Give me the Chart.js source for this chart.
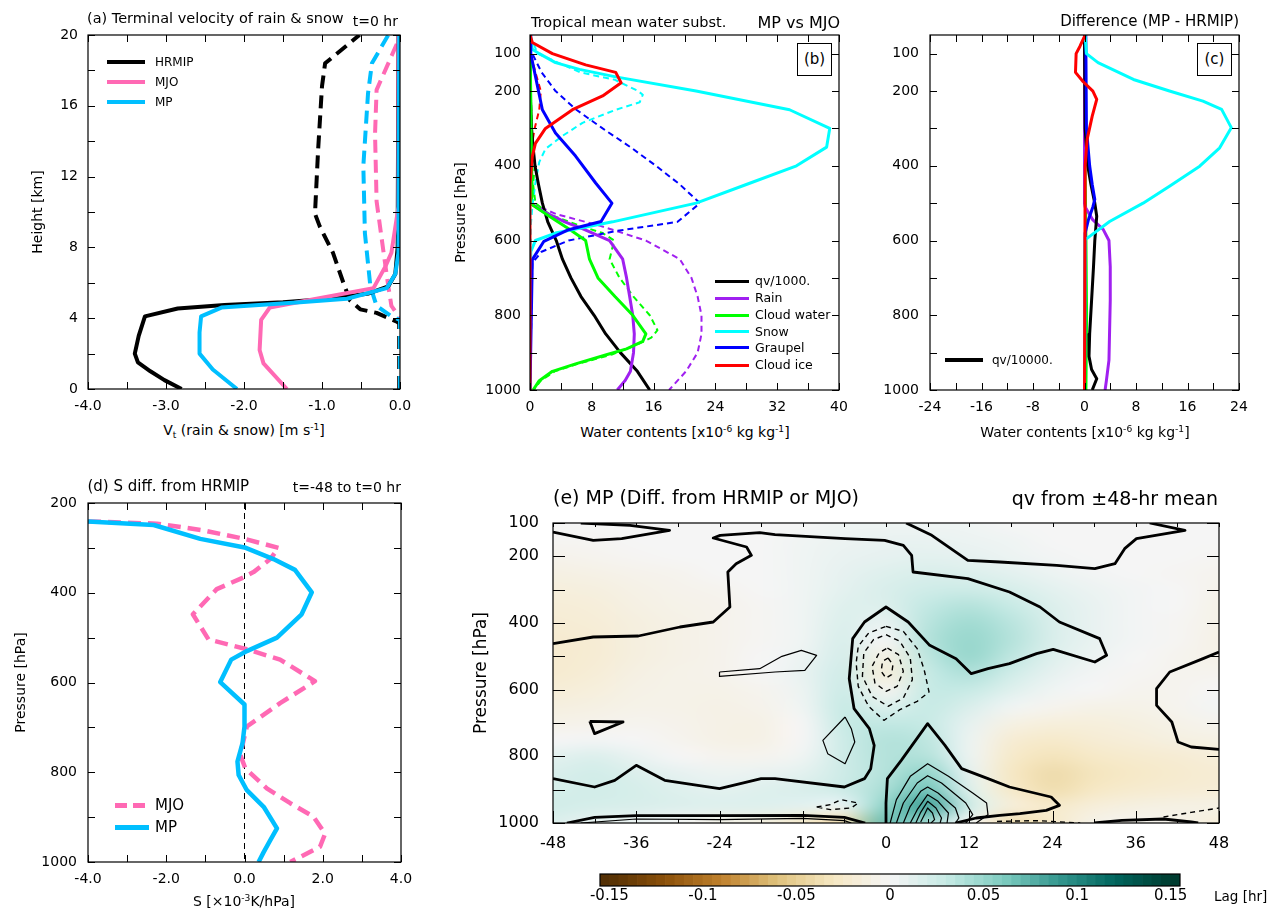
<!DOCTYPE html>
<html>
<head>
<meta charset="utf-8">
<title>Rain and snow profiles</title>
<script src="https://cdn.jsdelivr.net/npm/chart.js@4.4.1/dist/chart.umd.min.js"></script>
<style>
  html, body { margin: 0; padding: 0; background: #fff; }
  #page { position: relative; width: 1271px; height: 913px; overflow: hidden; background: #fff;
          font-family: "DejaVu Sans", sans-serif; color: #000; }
  #page canvas { position: absolute; }
  .txt { position: absolute; white-space: nowrap; line-height: 1; }
  .txt sup { font-size: 0.65em; vertical-align: 0.6em; line-height: 0; }
  .txt sub { font-size: 0.65em; vertical-align: -0.3em; line-height: 0; }
  .leg { position: absolute; }
  .tag { position: absolute; box-sizing: border-box; border: 1px solid #000; background: #fff;
         text-align: center; font-size: 15px; line-height: 31px; }
</style>
</head>
<body>
<div id="page"></div>
<script>
// ---------- (a) terminal velocity, height [km] vs Vt [m/s] ----------
const aHgtHrmip = [0, 0.5, 1, 1.5, 2, 3, 4.1, 4.55, 4.75, 4.9, 5.1, 5.4, 5.8, 6.5, 8, 20];
const aVtHrmip  = [-2.80, -3.02, -3.20, -3.36, -3.40, -3.35, -3.27, -2.85, -2.25, -1.50, -0.90, -0.40, -0.15, -0.06, -0.03, -0.02];
const aHgtMjo   = [0, 1.45, 2.2, 3.9, 4.6, 5.1, 5.7, 6.9, 7.7, 10.3, 20];
const aVtMjo    = [-1.45, -1.75, -1.80, -1.78, -1.67, -1.07, -0.34, -0.19, -0.11, -0.02, -0.02];
const aHgtMp    = [0, 1.1, 2.0, 3.2, 4.1, 4.6, 4.9, 5.1, 5.7, 6.5, 7.7, 20];
const aVtMp     = [-2.09, -2.40, -2.57, -2.57, -2.55, -2.29, -1.28, -0.68, -0.17, -0.06, -0.02, -0.01];
// dashed = snow
const aHgtHrmipS = [0, 3.7, 3.8, 4.3, 4.5, 5.0, 5.8, 7.7, 9.2, 9.9, 13.5, 17.1, 18.4, 20];
const aVtHrmipS  = [-0.01, -0.01, -0.04, -0.30, -0.51, -0.64, -0.71, -0.86, -1.03, -1.09, -1.05, -1.00, -0.96, -0.52];
const aHgtMjoS   = [0, 4.0, 4.7, 5.8, 7.7, 10.6, 14.4, 16.9, 18.2, 19.9];
const aVtMjoS    = [0, 0, -0.11, -0.15, -0.21, -0.30, -0.32, -0.30, -0.17, 0];
const aHgtMpS    = [0, 3.9, 4.1, 4.7, 5.8, 8.8, 12.6, 16.7, 18.4, 20];
const aVtMpS     = [0, 0, -0.11, -0.30, -0.38, -0.45, -0.47, -0.41, -0.36, -0.15];

// ---------- (b) tropical mean water substances (solid MP, dashed MJO) ----------
const bPQv = [50, 100, 200, 300, 350, 400, 450, 500, 550, 600, 650, 700, 750, 800, 850, 900, 950, 1000];
const bQv  = [0, 0, 0.05, 0.2, 0.4, 0.65, 1.1, 1.6, 2.3, 3.4, 4.2, 5.3, 6.6, 8.3, 9.8, 11.7, 13.9, 15.5];
const bPRain = [50, 500, 520, 550, 570, 600, 650, 700, 750, 800, 850, 900, 950, 975, 1000];
const bRain  = [0, 0, 1.5, 4.5, 7.0, 10.3, 12.0, 12.5, 12.9, 13.3, 13.5, 13.4, 13.0, 12.3, 11.3];
const bPRainD = [50, 500, 530, 560, 600, 650, 700, 750, 800, 850, 900, 950, 1000];
const bRainD  = [0, 0, 3.5, 9.0, 15.0, 19.4, 20.9, 21.7, 22.2, 22.2, 21.7, 20.2, 18.0];
const bPCw = [50, 400, 480, 500, 535, 570, 600, 650, 700, 750, 800, 850, 870, 890, 905, 930, 950, 975, 1000];
const bCw  = [0, 0.2, 0.3, 0, 2.5, 5.1, 7.2, 7.7, 8.8, 11.0, 13.3, 15.0, 14.6, 12.5, 10.0, 5.9, 2.9, 1.2, 0.4];
const bPCwD = [50, 300, 400, 450, 500, 530, 560, 580, 600, 650, 700, 750, 800, 840, 860, 880, 905, 930, 950, 975, 1000];
const bCwD  = [0, 0.2, 0.6, 0.4, 0.7, 2.5, 6.4, 9.4, 10.9, 10.3, 11.6, 13.4, 15.5, 16.5, 15.7, 13.7, 10.6, 6.2, 3.2, 1.4, 0.5];
const bPSnow = [50, 88, 100, 124, 142, 162, 200, 250, 300, 350, 400, 450, 500, 550, 580, 600, 630, 650, 1000];
const bSnow  = [0, 0.3, 1.2, 3.3, 6.4, 11.1, 21.5, 33.6, 38.8, 38.4, 34.5, 28.0, 21.5, 10.7, 3.3, 0.7, 0.1, 0, 0];
const bPSnowD = [50, 100, 150, 170, 200, 210, 230, 250, 285, 320, 355, 390, 445, 510, 560, 1000];
const bSnowD  = [0, 1.0, 6.5, 11.0, 14.0, 14.6, 14.2, 11.1, 6.8, 4.2, 2.0, 1.2, 0.7, 0.3, 0.1, 0];
const bPGr = [50, 100, 160, 250, 312, 374, 446, 500, 549, 571, 602, 651, 1000];
const bGr  = [0, 0.1, 0.7, 1.6, 3.3, 5.9, 8.5, 10.6, 9.2, 5.0, 1.8, 0.3, 0];
const bPGrD = [50, 100, 150, 200, 250, 300, 350, 400, 450, 500, 550, 575, 600, 630, 660, 1000];
const bGrD  = [0, 0.3, 1.5, 3.3, 6.0, 9.4, 13.0, 16.3, 19.4, 22.0, 19.1, 11.0, 5.0, 1.5, 0.3, 0];
const bPIce = [50, 70, 100, 130, 150, 178, 213, 250, 300, 340, 375, 450, 1000];
const bIce  = [0, 0.3, 2.9, 7.2, 11.1, 11.8, 9.4, 5.5, 2.0, 0.7, 0.3, 0, 0];
const bPIceD = [50, 100, 150, 200, 250, 300, 350, 400, 1000];
const bIceD  = [0, 0.1, 0.7, 1.4, 1.2, 0.6, 0.2, 0, 0];

// ---------- (c) difference MP - HRMIP ----------
const cPSnow = [50, 100, 124, 169, 200, 227, 249, 298, 352, 401, 455, 500, 549, 589, 598, 1000];
const cSnow  = [0.1, 0.3, 2.1, 7.6, 13.2, 18.4, 21.3, 22.8, 21.0, 17.9, 13.2, 9.1, 3.9, 0.8, 0.1, 0];
const cPIce = [50, 80, 100, 150, 175, 200, 222, 267, 330, 400, 1000];
const cIce  = [0.1, -0.7, -1.3, -1.4, -0.2, 1.3, 1.9, 1.2, 0.4, 0.1, 0];
const cPGr = [50, 300, 400, 450, 490, 510, 545, 580, 1000];
const cGr  = [0.2, 0.3, 0.8, 1.2, 1.6, 1.3, 0.6, 0.1, 0];
const cPQv = [50, 300, 400, 450, 500, 535, 600, 670, 760, 850, 910, 945, 970, 1000];
const cQv  = [0, 0.1, 0.5, 1.0, 1.6, 1.9, 1.6, 1.4, 1.1, 0.8, 0.7, 1.1, 1.9, 1.2];
const cPRain = [50, 500, 510, 545, 570, 600, 670, 760, 920, 975, 1000];
const cRain  = [0, 0, 0.1, 1.3, 2.9, 3.8, 4.0, 4.0, 3.8, 3.4, 3.2];
const cPCw = [50, 300, 600, 800, 1000];
const cCw  = [0, 0.1, 0.3, 0.4, 0.3];

// ---------- (d) S difference from HRMIP ----------
const dPMp = [241, 249, 280, 299, 325, 349, 399, 448, 500, 530, 549, 599, 649, 698, 735, 776, 806, 840, 877, 925, 951, 978, 1000];
const dSMp = [-4.0, -2.32, -1.13, 0, 0.74, 1.29, 1.72, 1.46, 0.83, 0.06, -0.34, -0.62, 0, 0, -0.05, -0.18, -0.15, 0.06, 0.49, 0.83, 0.66, 0.49, 0.36];
const dPMjo = [241, 246, 261, 280, 300, 325, 354, 366, 392, 448, 504, 526, 549, 597, 646, 698, 761, 791, 836, 869, 899, 937, 966, 1000];
const dSMjo = [-4, -2.24, -1.05, 0, 0.87, 0.66, 0.23, -0.03, -0.71, -1.32, -0.92, 0.06, 0.91, 1.80, 0.91, 0.06, -0.11, 0.02, 0.57, 1.17, 1.76, 2.06, 1.93, 1.17];

// ---------- (e) lag-pressure field (shading) and contours [lag, p] ----------
const eLag = [-48, -42, -36, -30, -24, -18, -12, -6, 0, 6, 12, 18, 24, 30, 36, 42, 48];
const eP = [100, 150, 200, 250, 300, 350, 400, 450, 500, 550, 600, 650, 700, 750, 800, 850, 900, 950, 1000];
const eQv = [
  [0.000, 0.000, 0.000, 0.000, 0.000, 0.000, 0.000, 0.004, 0.004, 0.004, 0.004, 0.000, 0.000, 0.000, 0.000, 0.000, 0.000],
  [-0.002, -0.002, 0.000, 0.000, 0.000, 0.000, 0.003, 0.006, 0.008, 0.008, 0.006, 0.004, 0.000, 0.000, 0.000, 0.000, 0.000],
  [-0.006, -0.004, -0.002, 0.000, 0.000, 0.000, 0.004, 0.008, 0.010, 0.012, 0.010, 0.006, 0.002, 0.000, 0.000, 0.000, -0.002],
  [-0.011, -0.009, -0.006, -0.004, 0.000, 0.000, 0.004, 0.010, 0.015, 0.018, 0.016, 0.012, 0.006, 0.002, 0.000, -0.002, -0.004],
  [-0.015, -0.013, -0.009, -0.006, -0.004, 0.000, 0.004, 0.012, 0.018, 0.025, 0.026, 0.020, 0.012, 0.006, 0.002, 0.000, -0.006],
  [-0.018, -0.016, -0.011, -0.008, -0.006, -0.002, 0.004, 0.015, 0.016, 0.032, 0.038, 0.030, 0.016, 0.008, 0.002, 0.000, -0.008],
  [-0.020, -0.018, -0.013, -0.009, -0.006, -0.002, 0.004, 0.017, 0.008, 0.036, 0.046, 0.036, 0.018, 0.008, 0.002, -0.002, -0.008],
  [-0.022, -0.020, -0.013, -0.009, -0.006, -0.002, 0.004, 0.019, 0.000, 0.038, 0.050, 0.038, 0.018, 0.008, 0.002, -0.002, -0.009],
  [-0.022, -0.020, -0.013, -0.009, -0.006, 0.000, 0.006, 0.021, -0.010, 0.034, 0.050, 0.034, 0.015, 0.006, 0.000, -0.004, -0.008],
  [-0.022, -0.018, -0.011, -0.008, -0.006, 0.000, 0.008, 0.024, -0.016, 0.030, 0.040, 0.025, 0.010, 0.002, -0.002, -0.004, -0.004],
  [-0.018, -0.015, -0.009, -0.008, -0.008, -0.004, 0.006, 0.027, -0.004, 0.030, 0.030, 0.015, 0.004, 0.000, -0.004, -0.004, 0.000],
  [-0.013, -0.011, -0.008, -0.008, -0.009, -0.006, 0.004, 0.030, 0.015, 0.030, 0.018, 0.004, -0.004, -0.008, -0.008, -0.004, 0.002],
  [-0.008, -0.006, -0.004, -0.006, -0.009, -0.009, 0.000, 0.030, 0.032, 0.030, 0.010, -0.010, -0.015, -0.015, -0.012, -0.008, -0.004],
  [0.000, 0.002, 0.000, -0.004, -0.009, -0.009, 0.000, 0.027, 0.038, 0.034, 0.006, -0.020, -0.025, -0.020, -0.016, -0.012, -0.010],
  [0.012, 0.016, 0.008, 0.000, -0.004, -0.004, 0.004, 0.026, 0.038, 0.038, 0.006, -0.025, -0.033, -0.027, -0.023, -0.020, -0.016],
  [0.018, 0.023, 0.016, 0.010, 0.006, 0.008, 0.012, 0.026, 0.038, 0.052, 0.010, -0.029, -0.040, -0.032, -0.027, -0.023, -0.020],
  [0.020, 0.023, 0.020, 0.015, 0.012, 0.015, 0.018, 0.026, 0.043, 0.065, 0.015, -0.025, -0.038, -0.029, -0.023, -0.020, -0.018],
  [0.023, 0.020, 0.018, 0.016, 0.015, 0.015, 0.012, 0.008, 0.055, 0.085, 0.025, -0.016, -0.025, -0.016, -0.012, -0.010, -0.010],
  [0.016, 0.008, 0.006, 0.000, -0.008, -0.012, -0.025, -0.040, 0.070, 0.045, 0.000, -0.038, -0.025, -0.008, -0.004, -0.008, -0.016]
];
// thick contours
const eThickA = [[-48, 127], [-42.2, 152], [-38.1, 147], [-31.2, 122], [-36.9, 107], [-44, 100]];
const eThickB = [[-48, 462], [-42.2, 442], [-35.7, 439], [-29.7, 412], [-24.9, 397], [-22.5, 352], [-22.8, 247], [-21.6, 222],
  [-19.4, 197], [-20.1, 172], [-24.9, 145], [-23.9, 137], [-18.2, 129], [-16, 135], [-5.9, 147], [-0.2, 152], [2.5, 167],
  [3.7, 197], [3.9, 247], [11.8, 267], [17.8, 307], [22.2, 352], [25, 397], [30.8, 447], [31.8, 497], [30.1, 517], [24.1, 479],
  [21.7, 492], [17.8, 522], [14.7, 537], [12.3, 552], [10.1, 507], [6.3, 467], [3.2, 397], [0, 352], [-3.1, 397], [-4.8, 447],
  [-5.3, 567], [-4.6, 657], [-2.4, 717], [-1.7, 767], [-2.2, 837], [-3.1, 867], [-6, 892], [-16, 867], [-18, 867], [-24, 897],
  [-31.9, 872], [-36, 827], [-39.1, 872], [-42, 892], [-48, 867]];
const eThickC = [[2.9, 100], [6.6, 137], [11.8, 212], [16.4, 217], [24.6, 227], [30.1, 237], [33, 222], [34.4, 177], [36.1, 147], [43.1, 122], [38, 100]];
const eThickD = [[48, 487], [45.7, 507], [40.9, 547], [39, 597], [39, 647], [41.2, 697], [42.1, 757], [44, 772], [48, 779]];
const eThickE = [[0.1, 1000], [0, 940], [0.2, 867], [2.2, 812], [6, 702], [8.5, 767], [10.9, 837], [14.7, 867], [17.8, 892],
  [23.8, 922], [25, 947], [23.1, 962], [19.3, 972], [16.4, 977], [13, 985], [10, 1000]];
const eThickF = [[-42.7, 695], [-37.9, 697], [-42, 732], [-42.7, 695]];
const eThickG = [[-46, 1000], [-42, 983], [-36, 978], [-24, 978], [-12, 977], [-6, 983], [-3, 1000]];
const eThickH = [[30, 1000], [34, 992], [40, 988], [44, 997], [45, 1000]];
// thin positive contours
const eThinA = [[-24, 547], [-18.2, 537], [-15, 500], [-12.2, 482], [-10, 497], [-11.7, 542], [-16, 547], [-24, 560], [-24, 547]];
const eThinB = [[-5.9, 682], [-5, 717], [-4.5, 757], [-5.9, 822], [-8.4, 792], [-9.1, 752], [-5.9, 682]];
const eThin1 = [[0.6, 1000], [1.5, 930], [3.5, 860], [6, 822], [9, 860], [12.5, 910], [14.5, 940], [14.7, 975], [13, 1000]];
const eThin2 = [[1.5, 1000], [2.5, 940], [4.5, 880], [6, 858], [8, 880], [11.5, 940], [12.5, 975], [11.5, 1000]];
const eThin3 = [[2.5, 1000], [3.5, 950], [5, 905], [6, 892], [7.5, 910], [10, 955], [10.5, 985], [10, 1000]];
const eThin4 = [[3.5, 1000], [4.5, 960], [6, 915], [7.5, 935], [9, 970], [8.8, 1000]];
const eThin5 = [[4.3, 1000], [5, 968], [6, 935], [7.2, 955], [8, 985], [7.8, 1000]];
const eThin6 = [[5, 997], [5.6, 972], [6, 955], [6.7, 970], [7, 990], [6.5, 1000]];
const eThinG = [[-44, 1000], [-36, 988], [-24, 990], [-12, 986], [-6, 993], [-5, 1000]];
// dashed negative contours
const eNeg1 = [[0, 410], [2.5, 425], [4.5, 477], [5.5, 540], [6.2, 607], [4.5, 635], [2, 660], [-0.3, 692], [-2.5, 650],
  [-4, 590], [-4.3, 520], [-4, 470], [-2.5, 430], [0, 410]];
const eNeg2 = [[0, 435], [2, 455], [3.5, 505], [3.8, 570], [2.5, 625], [0.3, 650], [-2, 620], [-3.4, 560], [-3.2, 490], [-1.8, 450], [0, 435]];
const eNeg3 = [[0.2, 475], [1.8, 495], [2.5, 545], [1.6, 590], [0, 605], [-1.6, 580], [-2, 530], [-1, 490], [0.2, 475]];
const eNeg4 = [[0.3, 505], [1, 525], [0.8, 555], [0, 565], [-0.7, 545], [-0.5, 515], [0.3, 505]];
const eNeg5 = [[-10, 952], [-8, 945], [-6.5, 930], [-4, 940], [-5, 955], [-8, 960], [-10, 952]];
const eNeg6 = [[40, 982], [44, 968], [48, 955]];
const eNeg7 = [[16, 995], [22, 993], [28, 1000]];

// ---------- axis ticks ----------
const aXTicks = [-4, -3.5, -3, -2.5, -2, -1.5, -1, -0.5, 0];
const aXLabels = [-4, -3, -2, -1, 0];
const aYTicks = [0, 2, 4, 6, 8, 10, 12, 14, 16, 18, 20];
const aYLabels = [0, 4, 8, 12, 16, 20];
const pTicks = [100, 200, 300, 400, 500, 600, 700, 800, 900, 1000];
const pLabels = [100, 200, 400, 600, 800, 1000];
const bXTicks = [0, 4, 8, 12, 16, 20, 24, 28, 32, 36, 40];
const bXLabels = [0, 8, 16, 24, 32, 40];
const cXTicks = [-24, -20, -16, -12, -8, -4, 0, 4, 8, 12, 16, 20, 24];
const cXLabels = [-24, -16, -8, 0, 8, 16, 24];
const dXTicks = [-4, -3, -2, -1, 0, 1, 2, 3, 4];
const dXLabels = [-4, -2, 0, 2, 4];
const dYTicks = [200, 300, 400, 500, 600, 700, 800, 900, 1000];
const dYLabels = [200, 400, 600, 800, 1000];
const eXTicks = [-48, -42, -36, -30, -24, -18, -12, -6, 0, 6, 12, 18, 24, 30, 36, 42, 48];
const eXLabels = [-48, -36, -24, -12, 0, 12, 24, 36, 48];
const cbTicks = [-0.15, -0.1, -0.05, 0, 0.05, 0.1, 0.15];
// BrBG colour scale anchors
const cbVals = [-0.15, -0.12, -0.09, -0.06, -0.03, 0, 0.03, 0.06, 0.09, 0.12, 0.15];
const cbColors = ['#543005', '#8c510a', '#bf812d', '#dfc27d', '#f6e8c3', '#f5f5f5', '#c7eae5', '#80cdc1', '#35978f', '#01665e', '#003c30'];

const BLACK = '#000000', PINK = '#ff69b4', SKY = '#00bfff';
const PURPLE = '#a020f0', GREEN = '#00ff00', CYAN = '#00ffff', BLUE = '#0000ff', RED = '#ff0000';

Chart.defaults.font.family = '"DejaVu Sans", sans-serif';
Chart.defaults.color = '#000';

const page = document.getElementById('page');

function hexRgb(h) {
  return [parseInt(h.slice(1, 3), 16), parseInt(h.slice(3, 5), 16), parseInt(h.slice(5, 7), 16)];
}
function colorAt(v) {
  if (v <= cbVals[0]) return hexRgb(cbColors[0]);
  for (let i = 1; i < cbVals.length; i++) {
    if (v <= cbVals[i]) {
      const f = (v - cbVals[i - 1]) / (cbVals[i] - cbVals[i - 1]);
      const a = hexRgb(cbColors[i - 1]), b = hexRgb(cbColors[i]);
      return a.map((c, k) => Math.round(c + (b[k] - c) * f));
    }
  }
  return hexRgb(cbColors[cbColors.length - 1]);
}

function text(html, x, base, size, align) {
  const d = document.createElement('div');
  d.className = 'txt';
  d.innerHTML = html;
  d.style.fontSize = size + 'px';
  d.style.top = (base - 0.846 * size) + 'px';
  if (align === 'right') d.style.right = (1271 - x) + 'px';
  else if (align === 'center') { d.style.left = x + 'px'; d.style.transform = 'translateX(-50%)'; }
  else d.style.left = x + 'px';
  page.appendChild(d);
}

function legLine(x1, x2, y, w, color, dash) {
  const d = document.createElement('div');
  d.className = 'leg';
  d.style.left = x1 + 'px';
  d.style.width = (x2 - x1) + 'px';
  d.style.top = (y - w / 2) + 'px';
  d.style.height = w + 'px';
  d.style.background = dash
    ? `repeating-linear-gradient(90deg, ${color} 0 ${dash[0]}px, transparent ${dash[0]}px ${dash[0] + dash[1]}px)`
    : color;
  page.appendChild(d);
}

function tag(label, x, y) {
  const d = document.createElement('div');
  d.className = 'tag';
  d.textContent = label;
  d.style.left = x + 'px';
  d.style.top = y + 'px';
  d.style.width = '35px';
  d.style.height = '33px';
  page.appendChild(d);
}

// profile line: values on x, levels on y
function prof(vals, levels, color, width, dash) {
  return {
    data: vals.map((v, i) => ({ x: v, y: levels[i] })),
    showLine: true, borderColor: color, backgroundColor: color, borderWidth: width,
    borderDash: dash || [], pointRadius: 0, borderJoinStyle: 'round', fill: false
  };
}
// contour line from [lag, p] pairs
function cont(pts, width, dash) {
  return {
    data: pts.map(p => ({ x: p[0], y: p[1] })),
    showLine: true, borderColor: '#000', borderWidth: width, borderDash: dash || [],
    pointRadius: 0, borderJoinStyle: 'round', fill: false
  };
}

const framePlugin = {
  id: 'frame',
  afterDraw(chart, args, o) {
    const { ctx, chartArea: a, scales: { x, y } } = chart;
    ctx.save();
    ctx.strokeStyle = '#000';
    ctx.lineWidth = 1;
    ctx.beginPath();
    x.ticks.forEach(t => {
      const p = Math.round(x.getPixelForValue(t.value)) + 0.5;
      const k = t.label === '' ? 1 : 0;
      ctx.moveTo(p, a.bottom); ctx.lineTo(p, a.bottom - o.bx[k]);
      ctx.moveTo(p, a.top); ctx.lineTo(p, a.top + o.tx[k]);
    });
    if (y.options.display !== false) {
      y.ticks.forEach(t => {
        const p = Math.round(y.getPixelForValue(t.value)) + 0.5;
        const k = t.label === '' ? 1 : 0;
        ctx.moveTo(a.left, p); ctx.lineTo(a.left + o.ly[k], p);
        ctx.moveTo(a.right, p); ctx.lineTo(a.right - o.ly[k], p);
      });
    }
    ctx.stroke();
    ctx.lineWidth = 1.2;
    ctx.strokeRect(a.left, a.top, a.right - a.left, a.bottom - a.top);
    ctx.restore();
  }
};

const fieldPlugin = {
  id: 'field',
  beforeDatasetsDraw(chart) {
    const { ctx, chartArea: a, scales: { x, y } } = chart;
    const off = document.createElement('canvas');
    off.width = eLag.length;
    off.height = eP.length;
    const octx = off.getContext('2d');
    const img = octx.createImageData(off.width, off.height);
    eQv.forEach((row, j) => row.forEach((v, i) => {
      const c = colorAt(v), k = (j * off.width + i) * 4;
      img.data[k] = c[0]; img.data[k + 1] = c[1]; img.data[k + 2] = c[2]; img.data[k + 3] = 255;
    }));
    octx.putImageData(img, 0, 0);
    const dl = (eLag[1] - eLag[0]) / 2, dp = (eP[1] - eP[0]) / 2;
    const x0 = x.getPixelForValue(eLag[0] - dl), x1 = x.getPixelForValue(eLag[eLag.length - 1] + dl);
    const y0 = y.getPixelForValue(eP[0] - dp), y1 = y.getPixelForValue(eP[eP.length - 1] + dp);
    ctx.save();
    ctx.beginPath();
    ctx.rect(a.left, a.top, a.right - a.left, a.bottom - a.top);
    ctx.clip();
    ctx.imageSmoothingEnabled = true;
    ctx.imageSmoothingQuality = 'high';
    ctx.drawImage(off, x0, y0, x1 - x0, y1 - y0);
    ctx.restore();
  }
};

function panel(c) {
  const L = c.plot.l - c.yw, T = c.plot.t - c.padT;
  const W = c.plot.r + c.padR - L, H = c.plot.b + c.xh - T;
  const cv = document.createElement('canvas');
  cv.width = W; cv.height = H;
  cv.style.left = L + 'px'; cv.style.top = T + 'px';
  cv.style.width = W + 'px'; cv.style.height = H + 'px';
  page.appendChild(cv);
  const fs = c.fs || 14;
  return new Chart(cv, {
    type: 'scatter',
    data: { datasets: c.datasets },
    options: {
      responsive: false, animation: false, devicePixelRatio: 1,
      layout: { padding: { left: 0, top: c.padT, right: c.padR, bottom: 0 } },
      plugins: { legend: { display: false }, tooltip: { enabled: false }, frame: c.frame },
      scales: {
        x: {
          type: 'linear', position: 'bottom', min: c.xmin, max: c.xmax,
          grid: { display: false, drawTicks: false }, border: { display: false },
          afterBuildTicks: s => { s.ticks = c.xticks.map(v => ({ value: v })); },
          afterFit: s => { s.height = c.xh; s.paddingLeft = 0; s.paddingRight = 0; },
          ticks: { autoSkip: false, maxRotation: 0, padding: c.xpad, font: { size: fs },
                   callback: v => c.xlabels.includes(v) ? c.xfmt(v) : '' }
        },
        y: {
          type: 'linear', position: 'left', min: c.ymin, max: c.ymax, reverse: !!c.reverse,
          grid: { display: false, drawTicks: false }, border: { display: false },
          afterBuildTicks: s => { s.ticks = c.yticks.map(v => ({ value: v })); },
          afterFit: s => { s.width = c.yw; s.paddingTop = 0; s.paddingBottom = 0; },
          ticks: { autoSkip: false, padding: c.ypad, font: { size: fs },
                   callback: v => c.ylabels.includes(v) ? String(v) : '' },
          title: c.ytitle
            ? { display: true, text: c.ytitle, font: { size: c.tfs || 14 },
                padding: { top: c.ytitleX - L - (c.tfs || 14) * 0.6, bottom: 0 } }
            : { display: false }
        }
      }
    },
    plugins: c.plugins || [framePlugin]
  });
}

const smallFrame = { bx: [7, 7], tx: [7, 7], ly: [7, 7] };
const DASH_A = [13, 7], DASH_B = [6, 4];

// (a)
panel({
  plot: { l: 88, t: 35, r: 400, b: 389 }, yw: 88, padT: 12, padR: 20, xh: 32, xpad: 9, ypad: 10,
  xmin: -4, xmax: 0, xticks: aXTicks, xlabels: aXLabels, xfmt: v => v.toFixed(1),
  ymin: 0, ymax: 20, yticks: aYTicks, ylabels: aYLabels,
  ytitle: 'Height [km]', ytitleX: 38, frame: smallFrame,
  datasets: [
    prof(aVtMp, aHgtMp, SKY, 4),
    prof(aVtMjo, aHgtMjo, PINK, 4),
    prof(aVtHrmip, aHgtHrmip, BLACK, 4),
    prof(aVtMpS, aHgtMpS, SKY, 4, DASH_A),
    prof(aVtMjoS, aHgtMjoS, PINK, 4, DASH_A),
    prof(aVtHrmipS, aHgtHrmipS, BLACK, 4, DASH_A)
  ]
});

// (b)
panel({
  plot: { l: 530, t: 35, r: 839, b: 390 }, yw: 90, padT: 12, padR: 14, xh: 32, xpad: 9, ypad: 9,
  xmin: 0, xmax: 40, xticks: bXTicks, xlabels: bXLabels, xfmt: v => String(v),
  ymin: 50, ymax: 1000, reverse: true, yticks: pTicks, ylabels: pLabels,
  ytitle: 'Pressure [hPa]', ytitleX: 461, frame: smallFrame,
  datasets: [
    prof(bIce, bPIce, RED, 3),
    prof(bGr, bPGr, BLUE, 3),
    prof(bSnow, bPSnow, CYAN, 3),
    prof(bCw, bPCw, GREEN, 3),
    prof(bRain, bPRain, PURPLE, 3),
    prof(bQv, bPQv, BLACK, 3),
    prof(bIceD, bPIceD, RED, 2, DASH_B),
    prof(bGrD, bPGrD, BLUE, 2, DASH_B),
    prof(bSnowD, bPSnowD, CYAN, 2, DASH_B),
    prof(bCwD, bPCwD, GREEN, 2, DASH_B),
    prof(bRainD, bPRainD, PURPLE, 2, DASH_B)
  ]
});

// (c)
panel({
  plot: { l: 930, t: 35, r: 1239, b: 390 }, yw: 86, padT: 12, padR: 20, xh: 32, xpad: 9, ypad: 11,
  xmin: -24, xmax: 24, xticks: cXTicks, xlabels: cXLabels, xfmt: v => String(v),
  ymin: 50, ymax: 1000, reverse: true, yticks: pTicks, ylabels: pLabels, frame: smallFrame,
  datasets: [
    prof(cIce, cPIce, RED, 3),
    prof(cSnow, cPSnow, CYAN, 3),
    prof(cGr, cPGr, BLUE, 3),
    prof(cQv, cPQv, BLACK, 3),
    prof(cRain, cPRain, PURPLE, 3),
    prof(cCw, cPCw, GREEN, 2)
  ]
});

// (d)
panel({
  plot: { l: 88, t: 503, r: 401, b: 862 }, yw: 88, padT: 12, padR: 18, xh: 32, xpad: 9, ypad: 11,
  xmin: -4, xmax: 4, xticks: dXTicks, xlabels: dXLabels, xfmt: v => v.toFixed(1),
  ymin: 200, ymax: 1000, reverse: true, yticks: dYTicks, ylabels: dYLabels,
  ytitle: 'Pressure [hPa]', ytitleX: 21, frame: smallFrame,
  datasets: [
    prof(dSMp, dPMp, SKY, 4.5),
    prof(dSMjo, dPMjo, PINK, 4.5, DASH_A),
    prof([0, 0], [200, 1000], BLACK, 1, [6, 4])
  ]
});

// (e)
panel({
  plot: { l: 553, t: 523, r: 1219, b: 823 }, yw: 93, padT: 12, padR: 25, xh: 36, xpad: 11, ypad: 14, fs: 16,
  xmin: -48, xmax: 48, xticks: eXTicks, xlabels: eXLabels, xfmt: v => String(v),
  ymin: 100, ymax: 1000, reverse: true, yticks: pTicks, ylabels: pLabels,
  ytitle: 'Pressure [hPa]', ytitleX: 482, tfs: 17,
  frame: { bx: [12, 4], tx: [4, 4], ly: [12, 12] },
  plugins: [fieldPlugin, framePlugin],
  datasets: [
    cont(eThickA, 2.8), cont(eThickB, 2.8), cont(eThickC, 2.8), cont(eThickD, 2.8),
    cont(eThickE, 2.8), cont(eThickF, 2.8), cont(eThickG, 2.8), cont(eThickH, 2.8),
    cont(eThinA, 1.2), cont(eThinB, 1.2), cont(eThin1, 1.2), cont(eThin2, 1.2), cont(eThin3, 1.2),
    cont(eThin4, 1.2), cont(eThin5, 1.2), cont(eThin6, 1.2), cont(eThinG, 1.2),
    cont(eNeg1, 1.4, [5, 4]), cont(eNeg2, 1.4, [5, 4]), cont(eNeg3, 1.4, [5, 4]), cont(eNeg4, 1.4, [5, 4]),
    cont(eNeg5, 1.4, [5, 4]), cont(eNeg6, 1.4, [5, 4]), cont(eNeg7, 1.4, [5, 4])
  ]
});

// colour bar
(function () {
  const cells = [];
  for (let k = 0; k < 62; k++) cells.push(-0.1525 + k * 0.005);
  const L = 560, T = 865, W = 700, H = 48;
  const cv = document.createElement('canvas');
  cv.width = W; cv.height = H;
  cv.style.left = L + 'px'; cv.style.top = T + 'px';
  cv.style.width = W + 'px'; cv.style.height = H + 'px';
  page.appendChild(cv);
  new Chart(cv, {
    type: 'bar',
    data: {
      datasets: [{
        data: cells.map(c => ({ x: c, y: 1 })),
        backgroundColor: cells.map(c => 'rgb(' + colorAt(c).join(',') + ')'),
        borderWidth: 0, barPercentage: 1, categoryPercentage: 1
      }]
    },
    options: {
      responsive: false, animation: false, devicePixelRatio: 1,
      layout: { padding: { left: 40, top: 9, right: 80, bottom: 0 } },
      plugins: { legend: { display: false }, tooltip: { enabled: false },
                 frame: { bx: [0, 0], tx: [0, 0], ly: [0, 0] } },
      scales: {
        x: {
          type: 'linear', offset: false, min: -0.155, max: 0.155,
          grid: { display: false, drawTicks: false }, border: { display: false },
          afterBuildTicks: s => { s.ticks = cbTicks.map(v => ({ value: v })); },
          afterFit: s => { s.height = (T + H) - 886; s.paddingLeft = 0; s.paddingRight = 0; },
          ticks: { autoSkip: false, maxRotation: 0, padding: 1, font: { size: 15 }, callback: v => String(v) }
        },
        y: { display: false, min: 0, max: 1 }
      }
    },
    plugins: [framePlugin]
  });
})();

// titles
text('(a) Terminal velocity of rain &amp; snow', 87, 23, 14.5, 'left');
text('t=0 hr', 398, 26, 14, 'right');
text('Tropical mean water subst.', 531, 27, 14.5, 'left');
text('MP vs MJO', 840, 28.5, 16, 'right');
text('Difference (MP - HRMIP)', 1239, 27, 15, 'right');
text('(d) S diff. from HRMIP', 87.5, 492, 15, 'left');
text('t=-48 to t=0 hr', 401, 492, 14, 'right');
text('(e) MP (Diff. from HRMIP or MJO)', 553, 504, 19, 'left');
text('qv from \u00b148-hr mean', 1218, 505, 19, 'right');

// x-axis titles
text('V<sub>t</sub> (rain &amp; snow) [m s<sup>-1</sup>]', 244, 435, 14, 'center');
text('Water contents [x10<sup>-6</sup> kg kg<sup>-1</sup>]', 685, 437, 14, 'center');
text('Water contents [x10<sup>-6</sup> kg kg<sup>-1</sup>]', 1085, 437, 14, 'center');
text('S [\u00d710<sup>-3</sup>K/hPa]', 244, 906, 14, 'center');
text('Lag [hr]', 1214, 901, 13.5, 'left');

// panel tags
tag('(b)', 797, 43);
tag('(c)', 1197, 43);

// legends
[['HRMIP', BLACK, 62.3], ['MJO', PINK, 82.3], ['MP', SKY, 102.3]].forEach(([n, c, y]) => {
  legLine(107, 145, y, 4, c);
  text(n, 155, y + 4.3, 12, 'left');
});
[['qv/1000.', BLACK, 281], ['Rain', PURPLE, 298.3], ['Cloud water', GREEN, 315],
 ['Snow', CYAN, 331.7], ['Graupel', BLUE, 347.7], ['Cloud ice', RED, 365]].forEach(([n, c, y]) => {
  legLine(715, 749, y, 3, c);
  text(n, 755, y + 4.4, 12.5, 'left');
});
legLine(945, 983, 360, 3.5, BLACK);
text('qv/10000.', 992, 364.2, 12, 'left');
legLine(115, 149, 805, 5, PINK, [12, 6]);
text('MJO', 155, 810.5, 15, 'left');
legLine(115, 149, 827.3, 5, SKY);
text('MP', 155, 832.8, 15, 'left');
</script>
</body>
</html>
